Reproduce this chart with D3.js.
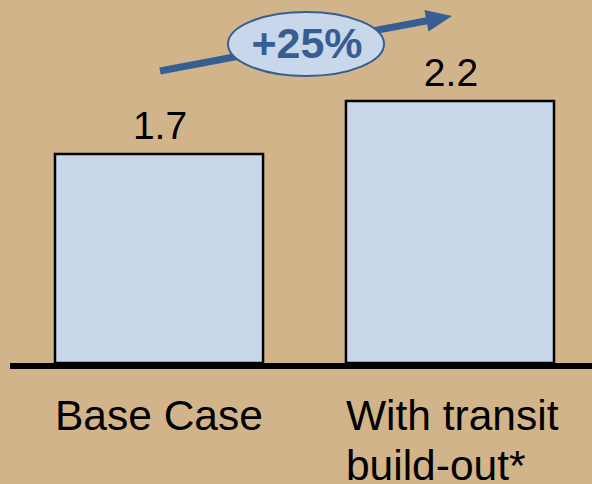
<!DOCTYPE html>
<html>
<head>
<meta charset="utf-8">
<script src="https://cdn.jsdelivr.net/npm/d3@7"></script>
<style>
  html, body { margin: 0; padding: 0; background: #D2B48A; }
  svg { display: block; font-family: "Liberation Sans", Arial, sans-serif; }
</style>
</head>
<body>
<svg id="chart"></svg>
<script>
// Chart data
const categories = ["Base Case", "With transit build-out*"]
const categoryLines = [["Base Case"], ["With transit", "build-out*"]]
const values = [1.7, 2.2]
const valueLabels = ["1.7", "2.2"]
const growthLabel = "+25%"

const width = 592
const height = 484

const svg = d3.select("#chart")
  .attr("width", width)
  .attr("height", height)

const x = d3.scaleBand()
  .domain(categories)
  .range([55, 554])
  .paddingInner(0.285)
  .paddingOuter(0)

const y = d3.scaleLinear()
  .domain([-0.272, 2.2]) // baseline sits a little below the value origin, as in the original slide
  .range([363, 101])

const data = categories.map((c, i) => ({ category: c, value: values[i], label: valueLabels[i], lines: categoryLines[i] }))

// Bars
svg.append("g")
  .selectAll("rect")
  .data(data)
  .join("rect")
    .attr("x", d => x(d.category))
    .attr("y", d => y(d.value))
    .attr("width", x.bandwidth())
    .attr("height", d => y.range()[0] - y(d.value))
    .attr("fill", "#C8D8EA")
    .attr("stroke", "#000")
    .attr("stroke-width", 2.5)

// Value labels
svg.append("g")
  .selectAll("text")
  .data(data)
  .join("text")
    .attr("x", d => x(d.category) + x.bandwidth() / 2 + 1)
    .attr("y", d => y(d.value) - 15)
    .attr("text-anchor", "middle")
    .attr("font-size", 39)
    .attr("fill", "#000")
    .text(d => d.label)

// Baseline
svg.append("line")
  .attr("x1", 10)
  .attr("x2", width)
  .attr("y1", y.range()[0] + 3)
  .attr("y2", y.range()[0] + 3)
  .attr("stroke", "#000")
  .attr("stroke-width", 6)

// Category labels
svg.append("g")
  .selectAll("text")
  .data(data)
  .join("text")
    .attr("x", d => x(d.category))
    .attr("y", 430)
    .attr("font-size", 42.5)
    .attr("fill", "#000")
    .selectAll("tspan")
    .data(d => d.lines)
    .join("tspan")
      .attr("x", function() { return d3.select(this.parentNode).attr("x") })
      .attr("dy", (d, i) => i === 0 ? 0 : 50)
      .text(d => d)

// Growth arrow with the ellipse badge on top
const arrowColor = "#375E92"
const tail = [160, 71]
const tip = [452, 16]
const angle = Math.atan2(tip[1] - tail[1], tip[0] - tail[0])
const headLen = 26
const headHalf = 11
const ux = Math.cos(angle), uy = Math.sin(angle)
const base = [tip[0] - ux * headLen, tip[1] - uy * headLen]

svg.append("line")
  .attr("x1", tail[0])
  .attr("y1", tail[1])
  .attr("x2", base[0] + ux * 2)
  .attr("y2", base[1] + uy * 2)
  .attr("stroke", arrowColor)
  .attr("stroke-width", 7)

svg.append("path")
  .attr("d", d3.line()([
    tip,
    [base[0] - uy * headHalf, base[1] + ux * headHalf],
    [base[0] + uy * headHalf, base[1] - ux * headHalf]
  ]) + "Z")
  .attr("fill", arrowColor)

svg.append("ellipse")
  .attr("cx", 306)
  .attr("cy", 44)
  .attr("rx", 78)
  .attr("ry", 32)
  .attr("fill", "#C8D8EA")
  .attr("stroke", arrowColor)
  .attr("stroke-width", 2)

svg.append("text")
  .attr("x", 307)
  .attr("y", 58)
  .attr("text-anchor", "middle")
  .attr("font-size", 43)
  .attr("font-weight", "bold")
  .attr("fill", arrowColor)
  .text(growthLabel)
</script>
</body>
</html>
